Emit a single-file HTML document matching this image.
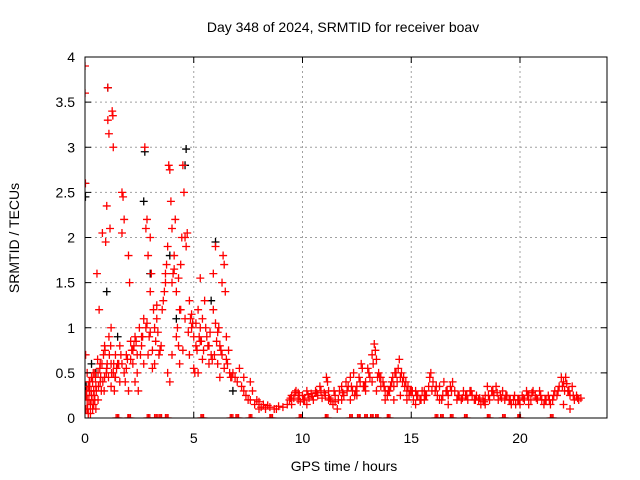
<!DOCTYPE html>
<html><head><meta charset="utf-8"><style>
body{margin:0;background:#fff}
svg{display:block;font-family:"Liberation Sans",sans-serif;font-size:14px}
</style></head><body>
<svg id="c" width="640" height="480">
<text x="343" y="32" text-anchor="middle">Day 348 of 2024, SRMTID for receiver boav</text>
<text x="344" y="471" text-anchor="middle">GPS time / hours</text>
<text transform="translate(19,238) rotate(-90)" text-anchor="middle">SRMTID / TECUs</text>
<defs><clipPath id="pa"><rect x="85" y="57" width="522" height="361"/></clipPath></defs>
<g id="grid"></g><g id="marks" clip-path="url(#pa)"></g><g id="axes"></g>
</svg>
<script>
const xTicks=[0,5,10,15,20];
const yTicks=[0,0.5,1,1.5,2,2.5,3,3.5,4];
const yTickLabels=["0","0.5","1","1.5","2","2.5","3","3.5","4"];
const redT=[0,0,0.02,0.03,0.05,0.1,0.15,0.2,0.25,0.3,0.35,0.4,0.45,0.5,0.1,0.2,0.3,0.4,0.5,0.05,0.15,0.25,0.35,0.45,
0.55,0.6,0.65,0.7,0.75,0.8,0.85,0.9,0.95,1.0,1.05,1.05,1.1,1.15,1.2,1.25,1.28,1.3,1.1,1.2,1.3,1.35,1.4,1.5,0.6,0.7,0.9,1.0,1.2,1.4,
1.6,1.7,1.75,1.8,1.7,1.6,1.8,1.9,2.0,2.0,2.05,2.1,2.2,2.3,2.4,2.5,2.3,2.45,1.7,1.9,2.1,2.2,2.4,
2.6,2.7,2.75,2.8,2.85,2.9,2.95,3.0,3.05,3.1,3.15,3.2,3.3,2.7,2.9,3.0,3.1,3.2,3.4,3.5,2.6,2.8,3.0,3.3,
3.6,3.7,3.8,3.85,3.9,3.95,4.0,4.0,4.1,4.15,4.2,4.25,4.3,4.35,4.4,4.45,4.5,4.55,4.6,4.65,4.7,3.8,3.9,4.0,4.2,4.4,4.5,3.7,4.1,4.3,4.6,
4.8,4.9,5.0,5.05,5.1,5.2,5.3,5.4,5.5,4.8,5.0,5.2,5.3,5.4,4.9,5.1,5.3,
5.6,5.7,5.8,5.9,6.0,6.0,6.1,6.2,6.3,6.35,6.4,6.45,6.5,6.6,6.2,6.4,6.7,6.8,6.9,5.7,5.9,6.1,6.3,6.5,
7.0,7.1,7.2,7.3,7.4,7.5,7.6,7.7,7.8,7.9,8.0,8.1,8.2,8.3,8.5,8.7,8.9,9.1,9.3,7.3,7.6,8.0,8.4,8.8,
9.4,9.5,9.6,9.7,9.8,9.9,10.0,10.1,10.2,10.3,10.4,10.5,9.5,9.8,10.2,
10.6,10.7,10.8,10.9,11.0,11.1,11.15,11.2,11.3,11.4,11.5,11.6,11.7,11.8,11.9,12.0,11.2,11.5,11.8,
12.1,12.2,12.3,12.35,12.4,12.5,12.6,12.7,12.75,12.8,12.9,13.0,12.2,12.5,12.9,
13.1,13.2,13.3,13.35,13.4,13.45,13.5,13.6,13.7,13.8,13.9,13.2,13.4,13.6,13.8,
14.0,14.1,14.2,14.3,14.4,14.45,14.5,14.6,14.7,14.8,14.9,15.0,14.2,14.5,14.8,
15.1,15.2,15.3,15.4,15.5,15.6,15.7,15.8,15.85,15.9,16.0,15.2,15.6,
16.1,16.2,16.3,16.4,16.5,16.6,16.7,16.8,16.9,17.0,16.3,16.7,
17.1,17.2,17.3,17.4,17.5,17.6,17.7,17.8,17.9,18.0,
18.1,18.2,18.3,18.4,18.5,18.6,18.7,18.8,18.9,19.0,18.4,
19.1,19.2,19.3,19.4,19.5,19.6,19.7,19.8,19.9,20.0,
20.1,20.2,20.3,20.4,20.5,20.6,20.7,20.8,20.9,21.0,20.4,
21.1,21.2,21.3,21.4,21.5,21.6,21.7,21.8,21.9,22.0,22.1,22.2,22.3,22.4,22.5,22.6,22.7,22.8,22.0,22.3];
const redV=[3.9,3.6,2.6,0.7,0.1,0.2,0.05,0.3,0.15,0.25,0.1,0.3,0.2,0.35,0.5,0.4,0.45,0.15,0.1,0.25,0.35,0.05,0.4,0.5,
1.6,0.5,1.2,0.6,0.3,2.05,0.7,0.45,1.95,2.35,3.66,3.3,3.15,2.1,1.0,3.4,3.35,3.0,0.9,0.6,0.5,0.3,0.7,0.6,0.2,0.4,0.8,0.55,0.35,0.45,
0.8,2.5,2.45,2.2,2.05,0.4,0.5,0.7,1.8,0.3,1.5,0.85,0.6,0.9,0.7,1.0,0.4,0.3,0.6,0.55,0.65,0.75,0.5,
0.8,1.1,3.0,2.1,2.2,1.8,0.9,2.0,1.6,0.55,1.2,1.0,1.25,0.6,0.7,0.95,0.75,0.6,0.7,0.8,0.9,1.0,1.4,1.1,
1.3,1.6,1.9,2.8,2.75,2.4,2.1,1.5,1.8,2.2,1.4,1.0,0.8,0.6,1.7,2.0,2.8,2.5,2.0,1.9,2.05,0.5,0.4,0.7,0.9,1.2,0.75,1.5,1.65,1.55,1.1,
1.3,1.0,0.9,0.5,0.8,1.2,1.0,0.65,1.3,0.7,0.55,0.5,1.55,1.1,1.15,1.05,0.85,
0.9,0.6,0.7,1.6,1.9,1.05,0.6,0.8,1.5,1.8,1.7,1.4,0.9,0.75,0.45,0.55,0.45,0.5,0.45,0.8,1.2,0.95,0.7,0.65,
0.4,0.55,0.35,0.3,0.25,0.2,0.4,0.3,0.15,0.2,0.18,0.12,0.15,0.1,0.12,0.1,0.13,0.12,0.15,0.45,0.2,0.1,0.14,0.1,
0.2,0.25,0.22,0.3,0.28,0.18,0.25,0.2,0.3,0.22,0.27,0.2,0.15,0.2,0.15,
0.3,0.25,0.35,0.22,0.28,0.45,0.4,0.3,0.2,0.15,0.25,0.1,0.3,0.35,0.25,0.4,0.2,0.18,0.2,
0.35,0.45,0.3,0.5,0.25,0.35,0.45,0.6,0.55,0.35,0.4,0.55,0.2,0.25,0.3,
0.45,0.7,0.82,0.75,0.65,0.45,0.5,0.35,0.4,0.3,0.25,0.4,0.3,0.45,0.2,
0.3,0.4,0.35,0.5,0.55,0.65,0.45,0.4,0.35,0.3,0.25,0.3,0.2,0.25,0.2,
0.2,0.3,0.25,0.2,0.3,0.2,0.25,0.35,0.45,0.5,0.4,0.15,0.3,
0.3,0.25,0.35,0.2,0.4,0.3,0.25,0.35,0.4,0.3,0.2,0.15,
0.2,0.25,0.2,0.3,0.25,0.2,0.3,0.25,0.2,0.25,
0.2,0.15,0.2,0.25,0.35,0.2,0.3,0.25,0.35,0.2,0.15,
0.25,0.3,0.2,0.25,0.2,0.15,0.2,0.15,0.2,0.15,
0.25,0.2,0.3,0.25,0.2,0.3,0.25,0.2,0.3,0.2,0.15,
0.15,0.2,0.25,0.15,0.2,0.3,0.25,0.35,0.45,0.4,0.45,0.3,0.25,0.35,0.2,0.25,0.2,0.22,0.15,0.1];
const extraT=[0.08,0.12,0.18,0.22,0.28,0.32,0.38,0.42,0.48,0.52,0.58,0.62,0.68,0.72,0.78,0.82,0.88,0.92,0.98,1.02,1.08,1.12,1.18,1.22,1.32,1.38,1.45,1.55,1.65,1.85,1.95,2.15,2.25,2.35,2.55,2.65,2.85,3.25,3.35,3.45,3.55,3.65,3.75,4.05,4.35,4.75,4.85,4.95,5.15,5.25,5.35,5.45,5.55,5.65,5.75,5.85,5.95,6.05,6.15,6.25,6.55,6.65,6.75,
9.45,9.65,9.85,10.05,10.25,10.45,10.65,10.85,11.05,11.25,11.45,11.65,11.85,12.05,12.25,12.45,12.65,12.85,13.05,13.25,13.55,13.75,13.95,14.05,14.15,14.25,14.35,14.55,14.65,14.75,14.85,14.95,15.05,15.25,15.45,15.65,15.95,16.15,16.45,16.65,16.85,17.15,17.35,17.55,17.75,17.95,18.15,18.35,18.55,18.75,18.95,19.15,19.35,19.55,19.75,19.95,20.15,20.35,20.55,20.75,20.95,21.15,21.35,21.55,21.75,21.95,22.05,22.15,22.25,22.45,22.65];
const extraV=[0.3,0.1,0.2,0.4,0.3,0.2,0.5,0.25,0.45,0.3,0.65,0.35,0.55,0.45,0.6,0.4,0.3,0.75,0.5,0.6,0.45,0.7,0.8,0.5,0.6,0.45,0.55,0.6,0.7,0.4,0.65,0.75,0.8,0.85,0.7,0.9,1.05,0.85,0.95,0.75,1.2,1.4,1.7,1.6,1.2,0.95,1.1,1.05,0.75,0.9,0.85,0.75,1.0,0.8,0.95,0.65,0.7,0.85,1.0,0.75,0.6,0.5,0.45,
0.22,0.28,0.25,0.2,0.26,0.24,0.28,0.3,0.25,0.22,0.3,0.2,0.28,0.3,0.35,0.3,0.4,0.35,0.5,0.6,0.45,0.35,0.3,0.35,0.45,0.5,0.4,0.5,0.45,0.4,0.35,0.3,0.3,0.25,0.2,0.25,0.3,0.35,0.25,0.3,0.3,0.25,0.22,0.25,0.3,0.2,0.22,0.18,0.25,0.3,0.28,0.22,0.25,0.2,0.25,0.2,0.22,0.25,0.28,0.22,0.25,0.2,0.2,0.25,0.3,0.35,0.3,0.38,0.3,0.25,0.22];
const zeroT=[1.43,1.97,2.86,3.2,3.4,3.7,5.33,6.68,6.94,7.55,8.5,9.85,11.05,12.17,12.53,12.86,13.13,13.36,13.9,16.1,16.35,16.8,17.45,18.5,19.2,19.9,21.4];
const blackT=[0,0.02,0.05,1.05,1.0,2.75,2.7,3.0,4.65,4.6,6.0,3.9,4.2,5.8,6.8,0.5,1.5,0.3];
const blackV=[2.6,2.45,0.35,3.66,1.4,2.95,2.4,1.6,2.98,2.8,1.95,1.8,1.1,1.3,0.3,0.5,0.9,0.6];

const X0=85,X1=607,Y0=418,Y1=57;
const xs=t=>X0+t*(X1-X0)/24;
const ys=v=>Y0-v*(Y0-Y1)/4;
const NS="http://www.w3.org/2000/svg";
function mk(tag,attrs,parent){const e=document.createElementNS(NS,tag);for(const k in attrs)e.setAttribute(k,attrs[k]);parent.appendChild(e);return e;}
const grid=document.getElementById('grid'),marks=document.getElementById('marks'),axes=document.getElementById('axes');
yTicks.forEach((v,i)=>{
  const y=ys(v);
  if(v>0&&v<4){const g=mk('line',{x1:X0,x2:X1,y1:y,y2:y,stroke:'#a0a0a0','stroke-dasharray':'2,3'},grid);
  
  }
  mk('line',{x1:X0,x2:X0+6,y1:y,y2:y,stroke:'#000'},axes);
  mk('line',{x1:X1,x2:X1-6,y1:y,y2:y,stroke:'#000'},axes);
  const t=mk('text',{x:X0-10,y:y+5,'text-anchor':'end'},axes);t.textContent=yTickLabels[i];
  
  
});
xTicks.forEach(v=>{
  const x=xs(v);
  if(v>0){const g=mk('line',{x1:x,x2:x,y1:Y0,y2:Y1,stroke:'#a0a0a0','stroke-dasharray':'2,3'},grid);
  
  }
  mk('line',{x1:x,x2:x,y1:Y0,y2:Y0-6,stroke:'#000'},axes);
  mk('line',{x1:x,x2:x,y1:Y1,y2:Y1+6,stroke:'#000'},axes);
  const t=mk('text',{x:x,y:Y0+25,'text-anchor':'middle'},axes);t.textContent=String(v);
  
  
});
const fr=mk('rect',{x:X0,y:Y1,width:X1-X0,height:Y0-Y1,fill:'none',stroke:'#000'},axes);


function plus(t,v,col,name){
  const x=xs(t),y=ys(v);
  const p=mk('path',{d:`M${x-4},${y}h8M${x},${y-4}v8`,stroke:col,'stroke-width':1.3,fill:'none'},marks);
  
  
}
blackT.forEach((t,i)=>plus(t,blackV[i],'#000','black-point'));
redT.forEach((t,i)=>plus(t,redV[i],'#f00','red-point'));
extraT.forEach((t,i)=>plus(t,extraV[i],'#f00','red-point'));
zeroT.forEach(t=>{plus(t,0,'#f00','zero-point');plus(t+0.06,0,'#f00','zero-point');plus(t+0.12,0,'#f00','zero-point');});
</script>
</body></html>
